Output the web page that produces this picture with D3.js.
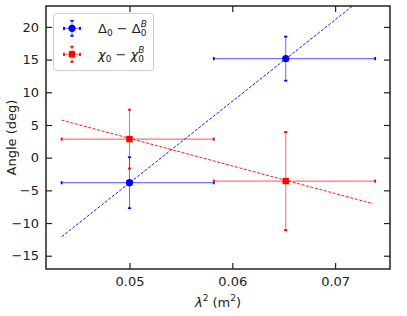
<!DOCTYPE html>
<html>
<head>
<meta charset="utf-8">
<script src="https://cdn.jsdelivr.net/npm/d3@7"></script>
<style>
  body { margin: 0; background: #fff; }
  svg { display: block; font-family: "DejaVu Sans", sans-serif; }
</style>
</head>
<body>
<svg id="chart" width="407" height="316"></svg>
<script>
// measured values
const lambda2 = [0.05, 0.0652];
const lambda2Lo = [0.0434, 0.0582];
const lambda2Hi = [0.0582, 0.0739];
const deltaVals = [-3.83, 15.15];
const deltaErr = [3.9, 3.37];
const chiVals = [2.84, -3.58];
const chiErr = [4.5, 7.5];

// linear fits (end points)
const fitX = [0.0434, 0.0737];
const deltaFit = [-12.1, 25.7];
const chiFit = [5.75, -7.05];

const xTicks = [0.05, 0.06, 0.07];
const yTicks = [-15, -10, -5, 0, 5, 10, 15, 20];

const svg = d3.select("#chart");
const W = 407, H = 316;
const margin = { top: 6, right: 17, bottom: 47, left: 46 };
const iw = W - margin.left - margin.right;
const ih = H - margin.top - margin.bottom;

const x = d3.scaleLinear().domain([0.04188, 0.07534]).range([0, iw]);
const y = d3.scaleLinear().domain([-17.03, 23.2]).range([ih, 0]);

const g = svg.append("g").attr("transform", `translate(${margin.left},${margin.top})`);

g.append("clipPath").attr("id", "clip")
  .append("rect").attr("width", iw).attr("height", ih);

const fmtY = (d) => (d < 0 ? "\u2212" + Math.abs(d) : "" + d);

function styleAxis(sel, showLabels) {
  sel.select(".domain").remove();
  sel.selectAll(".tick line").attr("stroke", "#222").attr("stroke-width", 1.2);
  sel.selectAll(".tick text")
    .attr("fill", "#222")
    .style("font-size", "13px")
    .style("font-family", "DejaVu Sans")
    .style("display", showLabels ? null : "none");
}

g.append("g").attr("transform", `translate(0,${ih})`)
  .call(d3.axisBottom(x).tickValues(xTicks).tickSize(-6).tickPadding(8).tickFormat(d3.format(".2f")))
  .call(styleAxis, true);
g.append("g")
  .call(d3.axisTop(x).tickValues(xTicks).tickSize(-6))
  .call(styleAxis, false);
g.append("g")
  .call(d3.axisLeft(y).tickValues(yTicks).tickSize(-6).tickPadding(7).tickFormat(fmtY))
  .call(styleAxis, true);
g.append("g").attr("transform", `translate(${iw},0)`)
  .call(d3.axisRight(y).tickValues(yTicks).tickSize(-6))
  .call(styleAxis, false);

const plot = g.append("g").attr("clip-path", "url(#clip)");

const line = d3.line().x((d) => x(d[0])).y((d) => y(d[1]));

function drawSeries(vals, errs, color, marker) {
  const s = plot.append("g");
  const pts = lambda2.map((lx, i) => ({ lx, lo: lambda2Lo[i], hi: lambda2Hi[i], v: vals[i], e: errs[i] }));

  // horizontal bars
  s.selectAll(".hbar").data(pts).enter().append("line")
    .attr("x1", (d) => x(d.lo)).attr("x2", (d) => x(d.hi))
    .attr("y1", (d) => y(d.v)).attr("y2", (d) => y(d.v))
    .attr("stroke", color).attr("stroke-opacity", 0.55).attr("stroke-width", 1.3);
  // vertical bars
  s.selectAll(".vbar").data(pts).enter().append("line")
    .attr("x1", (d) => x(d.lx)).attr("x2", (d) => x(d.lx))
    .attr("y1", (d) => y(d.v - d.e)).attr("y2", (d) => y(d.v + d.e))
    .attr("stroke", color).attr("stroke-opacity", 0.6).attr("stroke-width", 1);
  // caps
  pts.forEach((d) => {
    [d.lo, d.hi].forEach((cx) => {
      s.append("line").attr("x1", x(cx)).attr("x2", x(cx))
        .attr("y1", y(d.v) - 1.6).attr("y2", y(d.v) + 1.6)
        .attr("stroke", color).attr("stroke-width", 1.8);
    });
    [d.v - d.e, d.v + d.e].forEach((cy) => {
      s.append("line").attr("x1", x(d.lx) - 1.6).attr("x2", x(d.lx) + 1.6)
        .attr("y1", y(cy)).attr("y2", y(cy))
        .attr("stroke", color).attr("stroke-width", 1.8);
    });
  });
  // markers
  if (marker === "circle") {
    s.selectAll(".mk").data(pts).enter().append("circle")
      .attr("cx", (d) => x(d.lx)).attr("cy", (d) => y(d.v)).attr("r", 3.6)
      .attr("fill", color);
  } else {
    s.selectAll(".mk").data(pts).enter().append("rect")
      .attr("x", (d) => x(d.lx) - 3.2).attr("y", (d) => y(d.v) - 3.2)
      .attr("width", 6.4).attr("height", 6.4)
      .attr("fill", color);
  }
}

// fit lines
plot.append("path").datum(fitX.map((fx, i) => [fx, deltaFit[i]]))
  .attr("d", line).attr("fill", "none").attr("stroke", "blue")
  .attr("stroke-width", 0.9).attr("stroke-dasharray", "3,1.6");
plot.append("path").datum(fitX.map((fx, i) => [fx, chiFit[i]]))
  .attr("d", line).attr("fill", "none").attr("stroke", "red")
  .attr("stroke-width", 0.9).attr("stroke-dasharray", "3,1.6");

drawSeries(deltaVals, deltaErr, "blue", "circle");
drawSeries(chiVals, chiErr, "red", "square");

// frame
g.append("rect").attr("width", iw).attr("height", ih)
  .attr("fill", "none").attr("stroke", "#222").attr("stroke-width", 1.5);

// axis labels
const xl = svg.append("text")
  .attr("x", margin.left + iw / 2).attr("y", 307)
  .attr("text-anchor", "middle").style("font-size", "13px").attr("fill", "#222");
xl.append("tspan").attr("font-style", "italic").text("\u03bb");
xl.append("tspan").style("font-size", "9px").attr("dy", -6).text("2");
xl.append("tspan").attr("dy", 6).text(" (m");
xl.append("tspan").style("font-size", "9px").attr("dy", -6).text("2");
xl.append("tspan").attr("dy", 6).text(")");

svg.append("text")
  .attr("transform", `translate(16,${margin.top + ih / 2}) rotate(-90)`)
  .attr("text-anchor", "middle").style("font-size", "13px").attr("fill", "#222")
  .text("Angle (deg)");

// legend
const leg = svg.append("g");
leg.append("rect").attr("x", 53.5).attr("y", 13.5).attr("width", 100).attr("height", 57)
  .attr("rx", 3).attr("fill", "#fff").attr("fill-opacity", 0.8)
  .attr("stroke", "#ccc").attr("stroke-width", 1);

const legendItems = [
  { sym: "\u0394", italic: false, color: "blue", marker: "circle", cy: 28.3 },
  { sym: "\u03c7", italic: true, color: "red", marker: "square", cy: 54.3 },
];

legendItems.forEach((it) => {
  const mx = 72;
  const m = leg.append("g");
  m.append("line").attr("x1", mx - 8).attr("x2", mx + 8).attr("y1", it.cy).attr("y2", it.cy)
    .attr("stroke", it.color).attr("stroke-opacity", 0.6).attr("stroke-width", 1);
  m.append("line").attr("x1", mx).attr("x2", mx).attr("y1", it.cy - 7.5).attr("y2", it.cy + 7.5)
    .attr("stroke", it.color).attr("stroke-opacity", 0.6).attr("stroke-width", 1);
  [mx - 8, mx + 8].forEach((cx) => m.append("line").attr("x1", cx).attr("x2", cx)
    .attr("y1", it.cy - 1.6).attr("y2", it.cy + 1.6).attr("stroke", it.color).attr("stroke-width", 1.8));
  [it.cy - 7.5, it.cy + 7.5].forEach((cy) => m.append("line").attr("x1", mx - 1.6).attr("x2", mx + 1.6)
    .attr("y1", cy).attr("y2", cy).attr("stroke", it.color).attr("stroke-width", 1.8));
  if (it.marker === "circle") {
    m.append("circle").attr("cx", mx).attr("cy", it.cy).attr("r", 3.6).attr("fill", it.color);
  } else {
    m.append("rect").attr("x", mx - 3.2).attr("y", it.cy - 3.2).attr("width", 6.4).attr("height", 6.4).attr("fill", it.color);
  }

  const t = leg.append("text").attr("x", 98).attr("y", it.cy + 5)
    .style("font-size", "13px").attr("fill", "#222");
  t.append("tspan").attr("font-style", it.italic ? "italic" : null).text(it.sym);
  t.append("tspan").style("font-size", "9px").attr("dy", 3).text("0");
  t.append("tspan").attr("dy", -3).text(" \u2212 ");
  t.append("tspan").attr("font-style", it.italic ? "italic" : null).text(it.sym);
  t.append("tspan").style("font-size", "9px").attr("dy", 3).text("0");
  t.append("tspan").style("font-size", "9px").attr("font-style", "italic")
    .attr("dx", -5.7).attr("dy", -9).text("B");
});
</script>
</body>
</html>
